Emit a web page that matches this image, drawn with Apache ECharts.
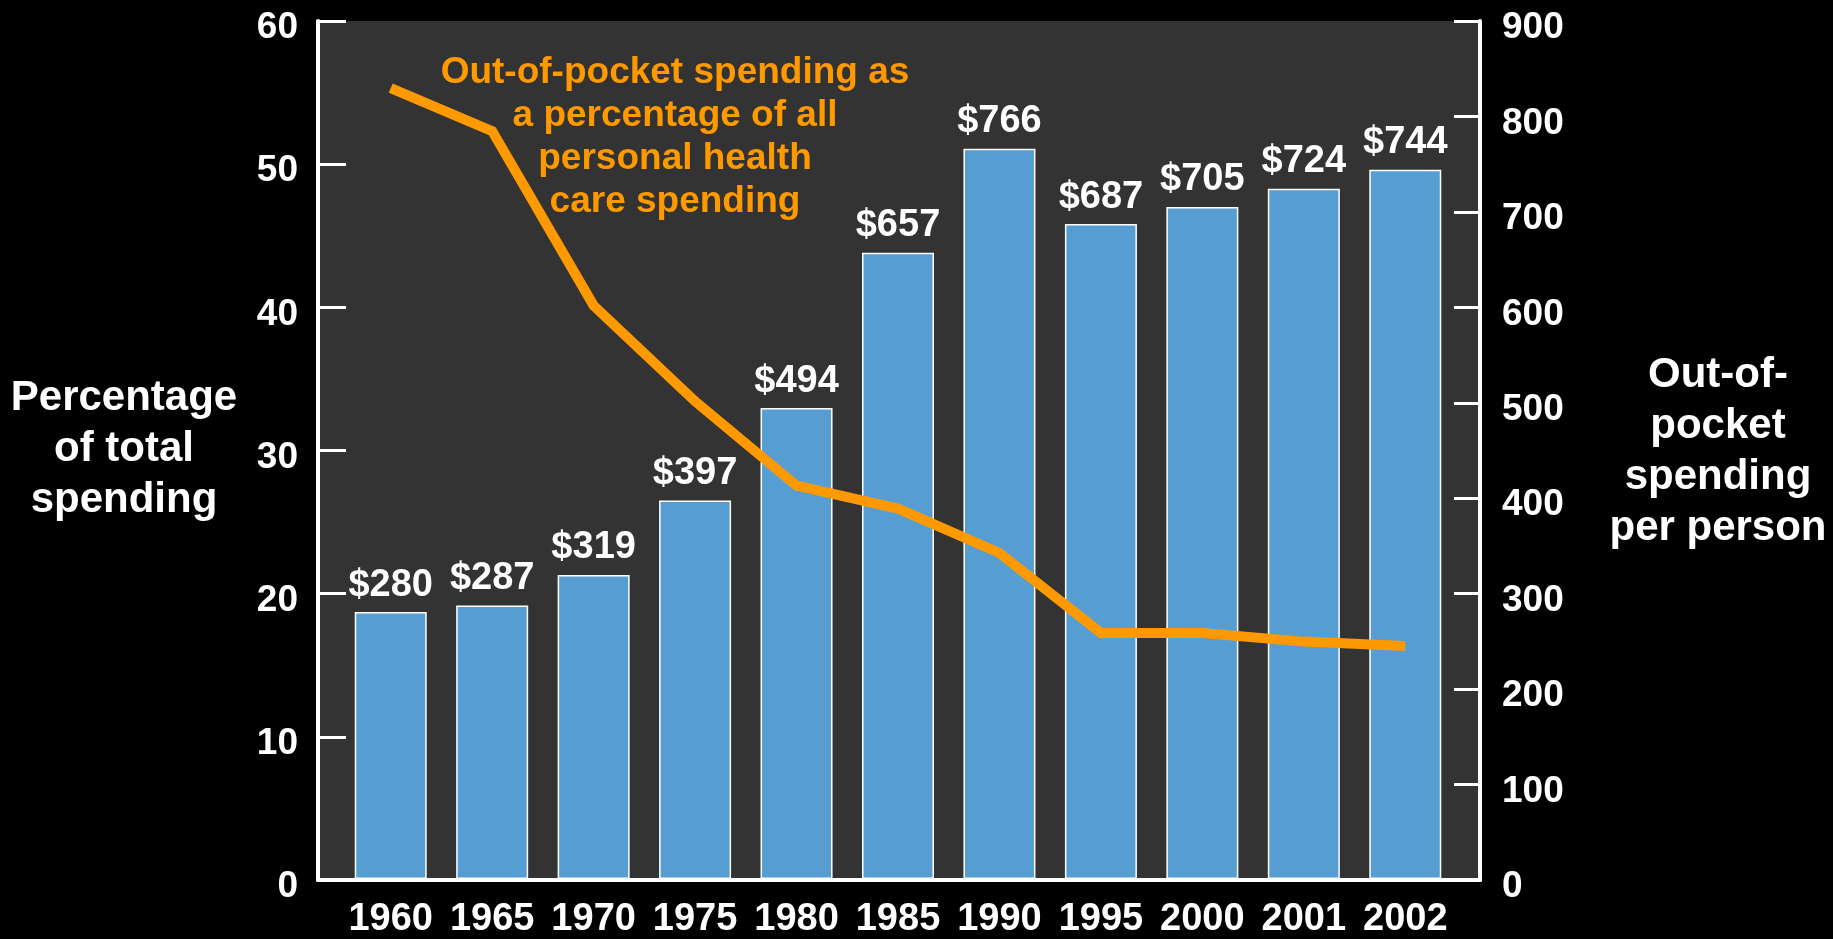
<!DOCTYPE html>
<html>
<head>
<meta charset="utf-8">
<script src="https://cdn.jsdelivr.net/npm/echarts@6/dist/echarts.min.js"></script>
<style>
html,body{margin:0;padding:0;background:#000;}
#chart{width:1833px;height:939px;}
</style>
</head>
<body>
<div id="chart"></div>
<script>
const years = ['1960','1965','1970','1975','1980','1985','1990','1995','2000','2001','2002'];
const perPerson = [280, 287, 319, 397, 494, 657, 766, 687, 705, 724, 744];
const sharePct = [55.3, 52.3, 40.1, 33.4, 27.5, 25.9, 22.8, 17.2, 17.2, 16.6, 16.3];
const leftTitle = 'Percentage\nof total\nspending';
const rightTitle = 'Out-of-\npocket\nspending\nper person';
const lineNote = 'Out-of-pocket spending as\na percentage of all\npersonal health\ncare spending';

const FONT = '"Liberation Sans", Arial, sans-serif';
const chart = echarts.init(document.getElementById('chart'));
const tickLabel = {color:'#fff', fontSize:37, fontWeight:'bold', fontFamily:FONT, margin:20,
                   verticalAlign:'top', lineHeight:14};

chart.setOption({
  backgroundColor:'#000',
  animation:false,
  grid:[
    {left:318, right:353, top:21, bottom:59, show:true, backgroundColor:'#333333', borderWidth:0},
    {left:340, right:377, top:21, bottom:59}
  ],
  xAxis:[
    {type:'category', gridIndex:1, data:years, boundaryGap:true,
     axisLine:{show:false}, axisTick:{show:false},
     axisLabel:{interval:0, hideOverlap:false, color:'#fff', fontSize:38, fontWeight:'bold', fontFamily:FONT, margin:22}},
    {type:'value', gridIndex:0, min:0, max:1, show:true,
     axisLine:{show:true, onZero:false, lineStyle:{color:'#fff', width:4}},
     axisTick:{show:false}, axisLabel:{show:false}, splitLine:{show:false}}
  ],
  yAxis:[
    {type:'value', gridIndex:0, position:'left', min:0, max:60, interval:10,
     axisLine:{show:true, lineStyle:{color:'#fff', width:4}},
     axisTick:{show:true, inside:true, length:28, lineStyle:{color:'#fff', width:3}},
     axisLabel:tickLabel, splitLine:{show:false}},
    {type:'value', gridIndex:0, position:'right', min:0, max:900, interval:100,
     axisLine:{show:true, lineStyle:{color:'#fff', width:4}},
     axisTick:{show:true, inside:true, length:26, lineStyle:{color:'#fff', width:3}},
     axisLabel:Object.assign({}, tickLabel, {margin:22}), splitLine:{show:false}},
    {type:'value', gridIndex:1, min:0, max:900, show:false},
    {type:'value', gridIndex:1, min:0, max:60, show:false}
  ],
  series:[
    {type:'bar', xAxisIndex:0, yAxisIndex:2, data:perPerson, barWidth:72,
     itemStyle:{color:'#569ED2', borderColor:'#ffffff', borderWidth:1.5},
     label:{show:true, position:'top', distance:8, color:'#fff', fontSize:38, fontWeight:'bold', fontFamily:FONT,
            formatter: p => '$' + p.value}},
    {type:'line', xAxisIndex:0, yAxisIndex:3, data:sharePct, symbol:'none', z:5,
     lineStyle:{color:'#FF9900', width:10, join:'miter'}}
  ],
  graphic:[
    {type:'text', z:10, position:[124,449],
     style:{text:leftTitle, fill:'#fff', font:'bold 42px '+FONT, align:'center', verticalAlign:'middle', lineHeight:51}},
    {type:'text', z:10, position:[1718,452],
     style:{text:rightTitle, fill:'#fff', font:'bold 42px '+FONT, align:'center', verticalAlign:'middle', lineHeight:51}},
    {type:'text', z:10, position:[675,137],
     style:{text:lineNote, fill:'#FF9900', font:'bold 37px '+FONT, align:'center', verticalAlign:'middle', lineHeight:43}}
  ]
});
</script>
</body>
</html>
